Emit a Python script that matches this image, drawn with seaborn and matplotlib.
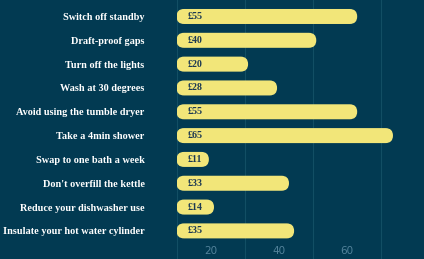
import matplotlib
matplotlib.use("Agg")
import matplotlib.pyplot as plt
from matplotlib.patches import FancyBboxPatch
import seaborn as sns
import pandas as pd

actions = ["Switch off standby", "Draft-proof gaps", "Turn off the lights",
           "Wash at 30 degrees", "Avoid using the tumble dryer", "Take a 4min shower",
           "Swap to one bath a week", "Don't overfill the kettle",
           "Reduce your dishwasher use", "Insulate your hot water cylinder"]
savings = [53, 41, 21, 29.5, 53, 63.5, 9.5, 33, 11, 34.5]
value_labels = ["£55", "£40", "£20", "£28", "£55", "£65", "£11", "£33", "£14", "£35"]
tick_pos = [10, 30, 50]
tick_labels = ["20", "40", "60"]
grid_pos = [0, 20, 40, 60]

BG = "#023a52"
BAR = "#f2e679"
TEXT_DARK = "#1d3a52"
GRID = "#124e64"
TICK = "#52829a"

df = pd.DataFrame({"action": actions, "saving": savings})

fig = plt.figure(figsize=(4.24, 2.59), dpi=100, facecolor=BG)
ax = fig.add_axes([176.5 / 424, 0, 1 - 176.5 / 424, 1])
ax.set_facecolor(BG)

sns.barplot(data=df, y="action", x="saving", orient="h", color=BAR,
            width=0.63, ax=ax, saturation=1)

ax.set_xlim(0, 72.6)
ax.set_ylim(10.18, -0.692)

fig.canvas.draw()
# rounded bars
px_per_x = ax.transData.transform((1, 0))[0] - ax.transData.transform((0, 0))[0]
px_per_y = abs(ax.transData.transform((0, 1))[1] - ax.transData.transform((0, 0))[1])
patches = list(ax.patches)
for p in patches:
    x, y = p.get_x(), p.get_y()
    w, h = p.get_width(), p.get_height()
    h_px = h * px_per_y
    r_x = (h_px / 2) / px_per_x
    asp = px_per_x / px_per_y
    fb = FancyBboxPatch((x, y), w, h,
                        boxstyle=f"round,pad=0,rounding_size={r_x}",
                        mutation_aspect=asp, facecolor=BAR, edgecolor="none",
                        zorder=3)
    ax.add_patch(fb)
    p.remove()

for i, lab in enumerate(value_labels):
    ax.text(3.3, i, lab, va="center", ha="left", color=TEXT_DARK,
            fontsize=7.2, fontweight="bold", family="Liberation Serif", zorder=4)

for s in ax.spines.values():
    s.set_visible(False)

ax.set_xlabel("")
ax.set_ylabel("")
ax.set_xticks(tick_pos)
ax.set_xticklabels(tick_labels)
ax.set_xticks(grid_pos, minor=True)
ax.grid(False)
ax.grid(True, which="minor", axis="x", color=GRID, linewidth=0.8, zorder=0)
ax.set_axisbelow(True)
ax.tick_params(axis="x", which="both", length=0, pad=-9, colors=TICK,
               labelsize=7.5)
for t in ax.get_xticklabels():
    t.set_family("DejaVu Sans")
ax.tick_params(axis="y", length=0, pad=23, colors="white", labelsize=7.4)
for t in ax.get_yticklabels():
    t.set_family("Liberation Serif")
    t.set_fontweight("bold")

fig.savefig("out.png", dpi=100, facecolor=BG)
